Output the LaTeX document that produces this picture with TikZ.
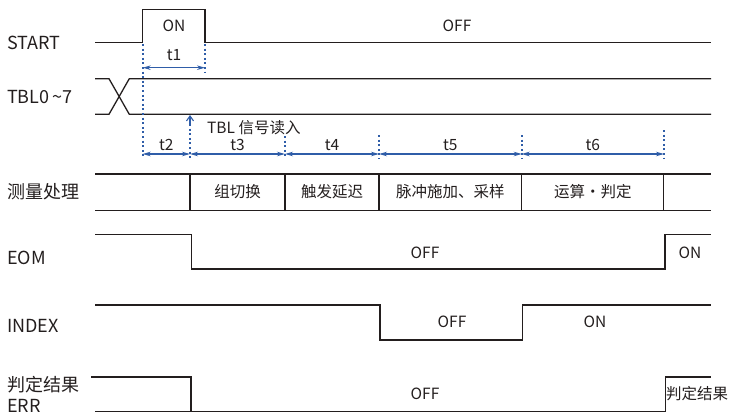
\documentclass[tikz,border=0pt]{standalone}
\usepackage{fontspec}
\setmainfont{Noto Sans CJK SC}
\usetikzlibrary{arrows.meta}
\definecolor{dimblue}{RGB}{47,93,168}
\definecolor{sigblack}{RGB}{35,30,30}
\begin{document}
\begin{tikzpicture}[x=1pt,y=-1pt,
  sig/.style={line width=1.3pt, sigblack},
  lbl/.style={font=\fontsize{18}{20}\selectfont, anchor=west, inner sep=0, text=sigblack},
  txt/.style={font=\fontsize{15.5}{17}\selectfont, inner sep=0, text=sigblack},
  dimline/.style={dimblue, line width=1.1pt, {Stealth[length=8pt,width=4.5pt]}-{Stealth[length=8pt,width=4.5pt]}},
  guide/.style={dimblue, line width=1.7pt, dash pattern=on 2pt off 2.6pt}]
\useasboundingbox (0,0) rectangle (732,415);

% left labels
\node[lbl] (lstart) at (7,43) {START};
\node[lbl] (ltbl) at (7,97) {TBL0\,\textasciitilde 7};
\node[lbl] (lmeas) at (7,192) {测量处理};
\node[lbl] (leom) at (7,258) {EOM};
\node[lbl] (lindex) at (7,326) {INDEX};
\node[lbl] (lerr1) at (7,385) {判定结果};
\node[lbl] (lerr2) at (7,406) {ERR};

% START
\draw[sig] (95,42.7) -- (142.7,42.7) -- (142.7,9.3) -- (205,9.3) -- (205,42.7) -- (711,42.7);
\node[txt] (son) at (174,26) {ON};
\node[txt] (soff) at (457,26) {OFF};

% TBL0~7
\draw[sig] (95,78.7) -- (109,78.7) -- (129.3,114.3) -- (711,114.3);
\draw[sig] (95,114.3) -- (109,114.3) -- (129.3,78.7) -- (711,78.7);

% guides
\coordinate (g0a) at (142.7,44); \coordinate (g0b) at (142.7,158);
\coordinate (g1a) at (205,44);   \coordinate (g1b) at (205,73);
\coordinate (g2a) at (190,124);    \coordinate (g2b) at (190,158);
\coordinate (g2t) at (190,115);
\coordinate (g3a) at (285,136);    \coordinate (g3b) at (285,158);
\coordinate (g4a) at (379,135);    \coordinate (g4b) at (379,159);
\coordinate (g5a) at (521.7,135);  \coordinate (g5b) at (521.7,159);
\coordinate (g6a) at (664,130);    \coordinate (g6b) at (664,159);
\foreach \i in {0,...,6} {\draw[guide] (g\i a) -- (g\i b);}
\draw[dimblue, line width=1.1pt, -{Straight Barb[length=5pt,width=7pt]}] (190,124) -- (g2t);
\node[txt, anchor=west] (tblread) at (207,128) {TBL 信号读入};

% time intervals
\coordinate (a1) at (142.7,67.7); \coordinate (b1) at (205,67.7);
\draw[dimline] (a1) -- (b1);
\node[txt] (t1) at (174,55) {t1};
\coordinate (p0) at (142.7,154);
\coordinate (p1) at (190,154);
\coordinate (p2) at (285,154);
\coordinate (p3) at (379,154);
\coordinate (p4) at (521.7,154);
\coordinate (p5) at (664,154);
\draw[dimline] (p0) -- (p1);
\draw[dimline] (p1) -- (p2);
\draw[dimline] (p2) -- (p3);
\draw[dimline] (p3) -- (p4);
\draw[dimline] (p4) -- (p5);
\node[txt] (t2) at (166.3,145) {t2};
\node[txt] (t3) at (237.5,145) {t3};
\node[txt] (t4) at (332,145) {t4};
\node[txt] (t5) at (450.3,145) {t5};
\node[txt] (t6) at (592.8,145) {t6};

% measurement processing
\draw[sig] (95,174) -- (711,174);
\draw[sig] (95,210.7) -- (711,210.7);
\foreach \x in {190,285,379,521.7,663.7} {\draw[sig] (\x,174) -- (\x,210.7);}
\node[txt] (m1) at (237.5,192) {组切换};
\node[txt] (m2) at (332,192) {触发延迟};
\node[txt] (m3) at (450.3,192) {脉冲施加、采样};
\node[txt] (m4) at (592.8,192) {运算・判定};

% EOM
\draw[sig] (95,234.7) -- (191.7,234.7) -- (191.7,269) -- (665,269) -- (665,234.7) -- (711,234.7);
\node[txt] (eoff) at (425,253) {OFF};
\node[txt] (eon) at (690,253) {ON};

% INDEX
\draw[sig] (95,305) -- (380,305) -- (380,340) -- (522.3,340) -- (522.3,305) -- (711,305);
\node[txt] (ioff) at (452,322) {OFF};
\node[txt] (ion) at (595,322) {ON};

% judgement ERR
\draw[sig] (91,377) -- (191,377) -- (191,411.7) -- (665.3,411.7) -- (665.3,377) -- (711,377);
\draw[sig] (95,411.7) -- (191,411.7);
\node[txt] (roff) at (425,394) {OFF};
\node[txt, anchor=west] (rres) at (666,394) {判定结果};
\end{tikzpicture}
\end{document}
